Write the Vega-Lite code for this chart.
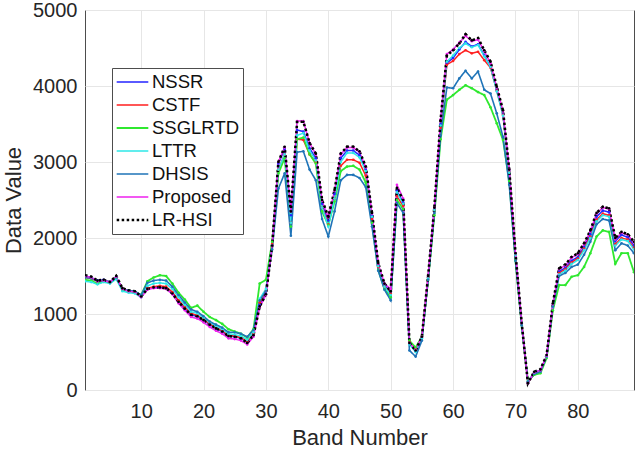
{
  "$schema": "https://vega.github.io/schema/vega-lite/v6.json",
  "autosize": {"type": "none"},
  "width": 549,
  "height": 380,
  "padding": {"left": 85, "top": 10, "right": 2, "bottom": 62},
  "background": "white",
  "config": {
    "font": "Liberation Sans",
    "view": {"stroke": "#4d4d4d", "strokeWidth": 1},
    "axis": {
      "labelFont": "Liberation Sans",
      "titleFont": "Liberation Sans",
      "labelFontSize": 20,
      "titleFontSize": 22,
      "titleFontWeight": "normal",
      "labelColor": "#262626",
      "titleColor": "#262626",
      "gridColor": "#e6e6e6",
      "gridWidth": 1,
      "domain": false,
      "ticks": false
    }
  },
  "data": {
    "values": [
      {"b":1,"NSSR":1500,"CSTF":1480,"SSGLRTD":1450,"LTTR":1430,"DHSIS":1480,"Proposed":1500,"LR-HSI":1510},
      {"b":2,"NSSR":1480,"CSTF":1470,"SSGLRTD":1440,"LTTR":1420,"DHSIS":1470,"Proposed":1480,"LR-HSI":1490},
      {"b":3,"NSSR":1440,"CSTF":1430,"SSGLRTD":1400,"LTTR":1390,"DHSIS":1430,"Proposed":1430,"LR-HSI":1440},
      {"b":4,"NSSR":1450,"CSTF":1440,"SSGLRTD":1430,"LTTR":1420,"DHSIS":1440,"Proposed":1440,"LR-HSI":1450},
      {"b":5,"NSSR":1420,"CSTF":1420,"SSGLRTD":1410,"LTTR":1400,"DHSIS":1420,"Proposed":1420,"LR-HSI":1420},
      {"b":6,"NSSR":1490,"CSTF":1480,"SSGLRTD":1470,"LTTR":1460,"DHSIS":1480,"Proposed":1490,"LR-HSI":1500},
      {"b":7,"NSSR":1330,"CSTF":1330,"SSGLRTD":1320,"LTTR":1300,"DHSIS":1330,"Proposed":1330,"LR-HSI":1340},
      {"b":8,"NSSR":1300,"CSTF":1300,"SSGLRTD":1300,"LTTR":1280,"DHSIS":1310,"Proposed":1300,"LR-HSI":1310},
      {"b":9,"NSSR":1290,"CSTF":1290,"SSGLRTD":1290,"LTTR":1270,"DHSIS":1300,"Proposed":1290,"LR-HSI":1300},
      {"b":10,"NSSR":1230,"CSTF":1230,"SSGLRTD":1250,"LTTR":1220,"DHSIS":1250,"Proposed":1220,"LR-HSI":1230},
      {"b":11,"NSSR":1330,"CSTF":1340,"SSGLRTD":1430,"LTTR":1370,"DHSIS":1410,"Proposed":1320,"LR-HSI":1330},
      {"b":12,"NSSR":1350,"CSTF":1360,"SSGLRTD":1480,"LTTR":1400,"DHSIS":1440,"Proposed":1340,"LR-HSI":1350},
      {"b":13,"NSSR":1350,"CSTF":1370,"SSGLRTD":1510,"LTTR":1410,"DHSIS":1450,"Proposed":1340,"LR-HSI":1350},
      {"b":14,"NSSR":1340,"CSTF":1360,"SSGLRTD":1500,"LTTR":1400,"DHSIS":1440,"Proposed":1330,"LR-HSI":1340},
      {"b":15,"NSSR":1270,"CSTF":1290,"SSGLRTD":1400,"LTTR":1330,"DHSIS":1360,"Proposed":1260,"LR-HSI":1270},
      {"b":16,"NSSR":1160,"CSTF":1180,"SSGLRTD":1280,"LTTR":1220,"DHSIS":1250,"Proposed":1140,"LR-HSI":1160},
      {"b":17,"NSSR":1070,"CSTF":1090,"SSGLRTD":1190,"LTTR":1120,"DHSIS":1150,"Proposed":1050,"LR-HSI":1070},
      {"b":18,"NSSR":990,"CSTF":1010,"SSGLRTD":1080,"LTTR":1030,"DHSIS":1060,"Proposed":960,"LR-HSI":990},
      {"b":19,"NSSR":970,"CSTF":980,"SSGLRTD":1110,"LTTR":1010,"DHSIS":1030,"Proposed":940,"LR-HSI":970},
      {"b":20,"NSSR":920,"CSTF":930,"SSGLRTD":1030,"LTTR":950,"DHSIS":970,"Proposed":890,"LR-HSI":920},
      {"b":21,"NSSR":860,"CSTF":870,"SSGLRTD":960,"LTTR":890,"DHSIS":900,"Proposed":830,"LR-HSI":860},
      {"b":22,"NSSR":810,"CSTF":820,"SSGLRTD":920,"LTTR":840,"DHSIS":860,"Proposed":780,"LR-HSI":810},
      {"b":23,"NSSR":770,"CSTF":780,"SSGLRTD":870,"LTTR":800,"DHSIS":820,"Proposed":740,"LR-HSI":770},
      {"b":24,"NSSR":710,"CSTF":720,"SSGLRTD":800,"LTTR":740,"DHSIS":760,"Proposed":680,"LR-HSI":710},
      {"b":25,"NSSR":700,"CSTF":710,"SSGLRTD":770,"LTTR":730,"DHSIS":760,"Proposed":670,"LR-HSI":700},
      {"b":26,"NSSR":680,"CSTF":690,"SSGLRTD":740,"LTTR":710,"DHSIS":740,"Proposed":650,"LR-HSI":680},
      {"b":27,"NSSR":630,"CSTF":640,"SSGLRTD":690,"LTTR":660,"DHSIS":700,"Proposed":600,"LR-HSI":620},
      {"b":28,"NSSR":730,"CSTF":740,"SSGLRTD":800,"LTTR":760,"DHSIS":790,"Proposed":700,"LR-HSI":720},
      {"b":29,"NSSR":1120,"CSTF":1150,"SSGLRTD":1400,"LTTR":1200,"DHSIS":1180,"Proposed":1090,"LR-HSI":1100},
      {"b":30,"NSSR":1270,"CSTF":1300,"SSGLRTD":1450,"LTTR":1330,"DHSIS":1300,"Proposed":1250,"LR-HSI":1260},
      {"b":31,"NSSR":1900,"CSTF":1920,"SSGLRTD":1950,"LTTR":1900,"DHSIS":1850,"Proposed":1900,"LR-HSI":1900},
      {"b":32,"NSSR":2980,"CSTF":2900,"SSGLRTD":2850,"LTTR":2900,"DHSIS":2650,"Proposed":3000,"LR-HSI":3000},
      {"b":33,"NSSR":3170,"CSTF":3100,"SSGLRTD":3050,"LTTR":3100,"DHSIS":2850,"Proposed":3190,"LR-HSI":3200},
      {"b":34,"NSSR":2300,"CSTF":2200,"SSGLRTD":2150,"LTTR":2200,"DHSIS":2030,"Proposed":2350,"LR-HSI":2350},
      {"b":35,"NSSR":3420,"CSTF":3300,"SSGLRTD":3300,"LTTR":3350,"DHSIS":3130,"Proposed":3540,"LR-HSI":3530},
      {"b":36,"NSSR":3400,"CSTF":3290,"SSGLRTD":3320,"LTTR":3380,"DHSIS":3140,"Proposed":3540,"LR-HSI":3530},
      {"b":37,"NSSR":3180,"CSTF":3100,"SSGLRTD":3100,"LTTR":3150,"DHSIS":2900,"Proposed":3250,"LR-HSI":3250},
      {"b":38,"NSSR":3050,"CSTF":3000,"SSGLRTD":2980,"LTTR":3020,"DHSIS":2760,"Proposed":3100,"LR-HSI":3110},
      {"b":39,"NSSR":2450,"CSTF":2400,"SSGLRTD":2350,"LTTR":2400,"DHSIS":2250,"Proposed":2490,"LR-HSI":2500},
      {"b":40,"NSSR":2230,"CSTF":2180,"SSGLRTD":2170,"LTTR":2150,"DHSIS":2020,"Proposed":2270,"LR-HSI":2280},
      {"b":41,"NSSR":2580,"CSTF":2520,"SSGLRTD":2480,"LTTR":2520,"DHSIS":2350,"Proposed":2620,"LR-HSI":2630},
      {"b":42,"NSSR":3050,"CSTF":2950,"SSGLRTD":2880,"LTTR":3000,"DHSIS":2760,"Proposed":3100,"LR-HSI":3110},
      {"b":43,"NSSR":3150,"CSTF":3030,"SSGLRTD":2940,"LTTR":3120,"DHSIS":2830,"Proposed":3190,"LR-HSI":3200},
      {"b":44,"NSSR":3150,"CSTF":3030,"SSGLRTD":2950,"LTTR":3120,"DHSIS":2830,"Proposed":3190,"LR-HSI":3200},
      {"b":45,"NSSR":3090,"CSTF":2990,"SSGLRTD":2900,"LTTR":3060,"DHSIS":2790,"Proposed":3130,"LR-HSI":3140},
      {"b":46,"NSSR":2900,"CSTF":2820,"SSGLRTD":2730,"LTTR":2880,"DHSIS":2670,"Proposed":2930,"LR-HSI":2940},
      {"b":47,"NSSR":2300,"CSTF":2250,"SSGLRTD":2200,"LTTR":2280,"DHSIS":2150,"Proposed":2320,"LR-HSI":2330},
      {"b":48,"NSSR":1640,"CSTF":1620,"SSGLRTD":1580,"LTTR":1630,"DHSIS":1570,"Proposed":1660,"LR-HSI":1670},
      {"b":49,"NSSR":1380,"CSTF":1360,"SSGLRTD":1330,"LTTR":1360,"DHSIS":1320,"Proposed":1400,"LR-HSI":1400},
      {"b":50,"NSSR":1290,"CSTF":1270,"SSGLRTD":1220,"LTTR":1250,"DHSIS":1180,"Proposed":1330,"LR-HSI":1300},
      {"b":51,"NSSR":2620,"CSTF":2550,"SSGLRTD":2500,"LTTR":2600,"DHSIS":2460,"Proposed":2700,"LR-HSI":2660},
      {"b":52,"NSSR":2470,"CSTF":2420,"SSGLRTD":2380,"LTTR":2450,"DHSIS":2330,"Proposed":2520,"LR-HSI":2500},
      {"b":53,"NSSR":610,"CSTF":640,"SSGLRTD":650,"LTTR":600,"DHSIS":520,"Proposed":620,"LR-HSI":620},
      {"b":54,"NSSR":510,"CSTF":540,"SSGLRTD":560,"LTTR":500,"DHSIS":440,"Proposed":530,"LR-HSI":520},
      {"b":55,"NSSR":690,"CSTF":700,"SSGLRTD":700,"LTTR":680,"DHSIS":650,"Proposed":700,"LR-HSI":700},
      {"b":56,"NSSR":1480,"CSTF":1480,"SSGLRTD":1450,"LTTR":1470,"DHSIS":1450,"Proposed":1500,"LR-HSI":1500},
      {"b":57,"NSSR":2380,"CSTF":2370,"SSGLRTD":2300,"LTTR":2370,"DHSIS":2330,"Proposed":2400,"LR-HSI":2400},
      {"b":58,"NSSR":3500,"CSTF":3450,"SSGLRTD":3300,"LTTR":3480,"DHSIS":3350,"Proposed":3560,"LR-HSI":3550},
      {"b":59,"NSSR":4300,"CSTF":4280,"SSGLRTD":3820,"LTTR":4320,"DHSIS":3980,"Proposed":4420,"LR-HSI":4400},
      {"b":60,"NSSR":4370,"CSTF":4330,"SSGLRTD":3880,"LTTR":4400,"DHSIS":3970,"Proposed":4480,"LR-HSI":4470},
      {"b":61,"NSSR":4480,"CSTF":4420,"SSGLRTD":3950,"LTTR":4500,"DHSIS":4100,"Proposed":4570,"LR-HSI":4560},
      {"b":62,"NSSR":4580,"CSTF":4470,"SSGLRTD":4010,"LTTR":4560,"DHSIS":4200,"Proposed":4660,"LR-HSI":4680},
      {"b":63,"NSSR":4520,"CSTF":4430,"SSGLRTD":3970,"LTTR":4510,"DHSIS":4100,"Proposed":4590,"LR-HSI":4600},
      {"b":64,"NSSR":4550,"CSTF":4450,"SSGLRTD":3920,"LTTR":4540,"DHSIS":4190,"Proposed":4610,"LR-HSI":4630},
      {"b":65,"NSSR":4400,"CSTF":4340,"SSGLRTD":3880,"LTTR":4390,"DHSIS":3950,"Proposed":4460,"LR-HSI":4470},
      {"b":66,"NSSR":4250,"CSTF":4240,"SSGLRTD":3720,"LTTR":4250,"DHSIS":3900,"Proposed":4300,"LR-HSI":4320},
      {"b":67,"NSSR":3950,"CSTF":3940,"SSGLRTD":3510,"LTTR":3930,"DHSIS":3640,"Proposed":3980,"LR-HSI":3990},
      {"b":68,"NSSR":3630,"CSTF":3620,"SSGLRTD":3290,"LTTR":3610,"DHSIS":3330,"Proposed":3670,"LR-HSI":3680},
      {"b":69,"NSSR":2880,"CSTF":2870,"SSGLRTD":2750,"LTTR":2860,"DHSIS":2700,"Proposed":2900,"LR-HSI":2900},
      {"b":70,"NSSR":1790,"CSTF":1790,"SSGLRTD":1700,"LTTR":1780,"DHSIS":1700,"Proposed":1800,"LR-HSI":1800},
      {"b":71,"NSSR":870,"CSTF":870,"SSGLRTD":850,"LTTR":860,"DHSIS":850,"Proposed":880,"LR-HSI":880},
      {"b":72,"NSSR":100,"CSTF":100,"SSGLRTD":120,"LTTR":110,"DHSIS":110,"Proposed":90,"LR-HSI":90},
      {"b":73,"NSSR":230,"CSTF":220,"SSGLRTD":200,"LTTR":220,"DHSIS":210,"Proposed":230,"LR-HSI":240},
      {"b":74,"NSSR":260,"CSTF":250,"SSGLRTD":220,"LTTR":250,"DHSIS":240,"Proposed":260,"LR-HSI":270},
      {"b":75,"NSSR":450,"CSTF":440,"SSGLRTD":420,"LTTR":440,"DHSIS":440,"Proposed":450,"LR-HSI":460},
      {"b":76,"NSSR":1120,"CSTF":1110,"SSGLRTD":1050,"LTTR":1100,"DHSIS":1100,"Proposed":1130,"LR-HSI":1140},
      {"b":77,"NSSR":1560,"CSTF":1540,"SSGLRTD":1380,"LTTR":1520,"DHSIS":1500,"Proposed":1590,"LR-HSI":1600},
      {"b":78,"NSSR":1610,"CSTF":1590,"SSGLRTD":1380,"LTTR":1570,"DHSIS":1540,"Proposed":1640,"LR-HSI":1650},
      {"b":79,"NSSR":1700,"CSTF":1680,"SSGLRTD":1490,"LTTR":1660,"DHSIS":1620,"Proposed":1740,"LR-HSI":1750},
      {"b":80,"NSSR":1750,"CSTF":1730,"SSGLRTD":1510,"LTTR":1710,"DHSIS":1650,"Proposed":1790,"LR-HSI":1800},
      {"b":81,"NSSR":1880,"CSTF":1860,"SSGLRTD":1620,"LTTR":1840,"DHSIS":1780,"Proposed":1920,"LR-HSI":1930},
      {"b":82,"NSSR":2050,"CSTF":2020,"SSGLRTD":1800,"LTTR":2000,"DHSIS":1950,"Proposed":2090,"LR-HSI":2100},
      {"b":83,"NSSR":2280,"CSTF":2240,"SSGLRTD":2020,"LTTR":2220,"DHSIS":2180,"Proposed":2320,"LR-HSI":2330},
      {"b":84,"NSSR":2360,"CSTF":2320,"SSGLRTD":2100,"LTTR":2300,"DHSIS":2250,"Proposed":2400,"LR-HSI":2410},
      {"b":85,"NSSR":2340,"CSTF":2300,"SSGLRTD":2080,"LTTR":2280,"DHSIS":2230,"Proposed":2380,"LR-HSI":2390},
      {"b":86,"NSSR":1960,"CSTF":1920,"SSGLRTD":1660,"LTTR":1900,"DHSIS":1840,"Proposed":1980,"LR-HSI":2000},
      {"b":87,"NSSR":2040,"CSTF":2000,"SSGLRTD":1800,"LTTR":1980,"DHSIS":1930,"Proposed":2070,"LR-HSI":2080},
      {"b":88,"NSSR":2010,"CSTF":1980,"SSGLRTD":1800,"LTTR":1960,"DHSIS":1900,"Proposed":2040,"LR-HSI":2050},
      {"b":89,"NSSR":1900,"CSTF":1870,"SSGLRTD":1550,"LTTR":1850,"DHSIS":1800,"Proposed":1940,"LR-HSI":1950}
    ]
  },
  "transform": [
    {"fold": ["NSSR", "CSTF", "SSGLRTD", "LTTR", "DHSIS", "Proposed", "LR-HSI"], "as": ["method", "value"]}
  ],
  "mark": {"type": "line", "clip": true, "point": {"filled": true, "size": 7}},
  "encoding": {
    "x": {
      "field": "b", "type": "quantitative",
      "scale": {"domain": [1, 89], "nice": false, "zero": false},
      "axis": {"title": "Band Number", "values": [10, 20, 30, 40, 50, 60, 70, 80], "labelPadding": 11, "titlePadding": 6, "grid": true}
    },
    "y": {
      "field": "value", "type": "quantitative",
      "scale": {"domain": [0, 5000], "nice": false},
      "axis": {"title": "Data Value", "values": [0, 1000, 2000, 3000, 4000, 5000], "format": "d", "labelPadding": 8, "titlePadding": 7, "grid": true}
    },
    "color": {
      "field": "method", "type": "nominal",
      "scale": {
        "domain": ["NSSR", "CSTF", "SSGLRTD", "LTTR", "DHSIS", "Proposed", "LR-HSI"],
        "range": ["#2424ff", "#ff1f1f", "#2fe82f", "#2ee8e8", "#1f74b8", "#ee22ee", "#000000"]
      },
      "legend": {
        "title": null,
        "orient": "none",
        "legendX": 27,
        "legendY": 58,
        "direction": "vertical",
        "symbolType": "stroke",
        "symbolSize": 1000,
        "symbolStrokeWidth": 1.8,
        "clipHeight": 22,
        "labelFont": "Liberation Sans",
        "labelFontSize": 18.5,
        "labelColor": "#111111",
        "rowPadding": 1,
        "labelOffset": 2,
        "padding": 3,
        "strokeColor": "#4d4d4d",
        "fillColor": "white"
      }
    },
    "strokeDash": {
      "field": "method", "type": "nominal",
      "scale": {
        "domain": ["NSSR", "CSTF", "SSGLRTD", "LTTR", "DHSIS", "Proposed", "LR-HSI"],
        "range": [[1, 0], [1, 0], [1, 0], [1, 0], [1, 0], [1, 0], [2.5, 2.5]]
      },
      "legend": {
        "title": null,
        "orient": "none",
        "legendX": 27,
        "legendY": 58,
        "direction": "vertical",
        "symbolType": "stroke",
        "symbolSize": 1000,
        "symbolStrokeWidth": 1.8,
        "clipHeight": 22,
        "labelFont": "Liberation Sans",
        "labelFontSize": 18.5,
        "labelColor": "#111111",
        "rowPadding": 1,
        "labelOffset": 2,
        "padding": 3,
        "strokeColor": "#4d4d4d",
        "fillColor": "white"
      }
    },
    "strokeWidth": {
      "field": "method", "type": "nominal",
      "scale": {
        "type": "ordinal",
        "domain": ["NSSR", "CSTF", "SSGLRTD", "LTTR", "DHSIS", "Proposed", "LR-HSI"],
        "range": [1.5, 1.5, 1.8, 1.5, 1.6, 1.5, 2.6]
      },
      "legend": null
    }
  }
}
